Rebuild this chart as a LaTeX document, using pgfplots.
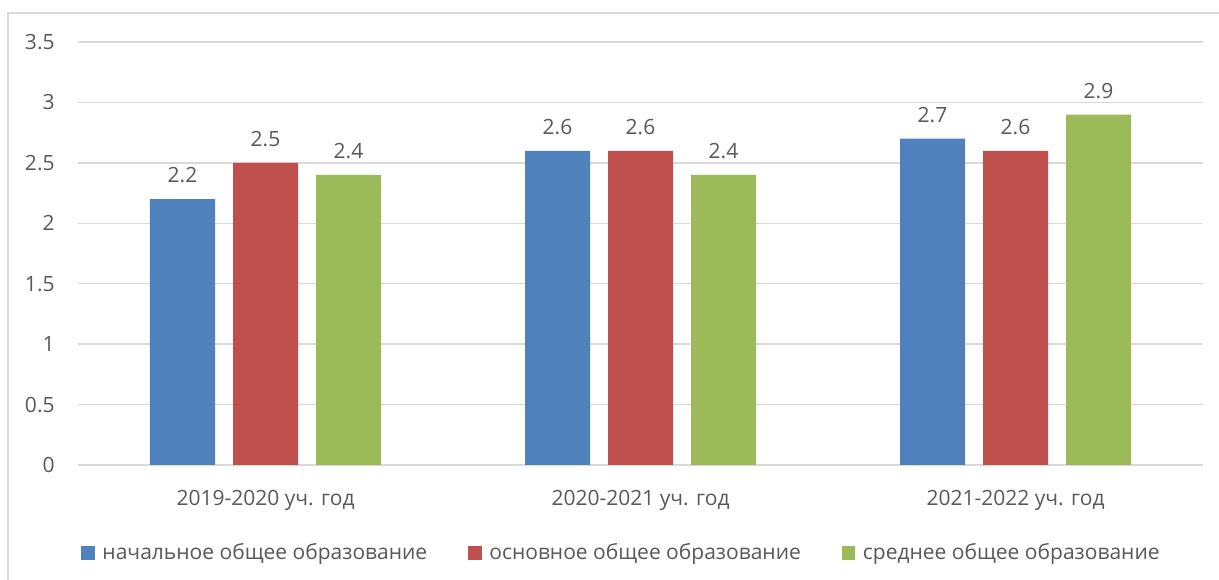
\documentclass[border=0pt]{standalone}
\usepackage{pgfplots}
\pgfplotsset{compat=1.18}
\usepackage{fontspec}
\setmainfont{Open Sans}
\definecolor{txt}{HTML}{595959}
\definecolor{gridc}{HTML}{D9D9D9}
\definecolor{cblue}{HTML}{4F81BD}
\definecolor{cred}{HTML}{C0504D}
\definecolor{cgreen}{HTML}{9BBB59}
\begin{document}
\begin{tikzpicture}
\useasboundingbox (0,0) rectangle (609.5bp,290bp);
\draw[gridc, line width=0.6bp] (4bp,-10bp) rectangle (612bp,283.5bp);
\begin{axis}[
    at={(39bp,57.5bp)}, anchor=south west,
    scale only axis,
    width=562.5bp, height=211.5bp,
    xmin=-0.5, xmax=2.5,
    ymin=0, ymax=3.5,
    ytick={0,0.5,...,3.5},
    xtick=data,
    xticklabels={2019-2020 уч. год, 2020-2021 уч. год, 2021-2022 уч. год},
    axis line style={draw=none},
    major tick length=0pt,
    ymajorgrids,
    grid style={gridc, line width=0.75bp},
    ybar, bar width=32.5bp,
    font=\fontsize{10.5bp}{12bp}\selectfont,
    /pgf/number format/assume math mode=true,
    ticklabel style={text=txt, font=\fontsize{10.5bp}{12bp}\selectfont, inner sep=0pt},
    yticklabel style={anchor=east, xshift=-11.5bp},
    xticklabel style={anchor=north, yshift=-12.5bp},
    nodes near coords,
    every node near coord/.append style={text=txt, anchor=south, yshift=4.5bp, font=\fontsize{10.5bp}{12bp}\selectfont},
    legend columns=-1,
    legend style={at={(0,-0.208)}, anchor=west, xshift=1.5bp, draw=none, inner sep=0pt, text=txt,
        font=\fontsize{10.5bp}{12bp}\selectfont,
        nodes={inner sep=0pt},
        /tikz/every odd column/.append style={column sep=3.75bp},
        /tikz/every even column/.append style={column sep=20.5bp}},
    legend image code/.code={\fill[#1] (0bp,-3.4bp) rectangle (6.8bp,3.4bp);},
  ]
  \addplot[fill=cblue, draw=none, bar shift=-41.5bp] coordinates {(0,2.2) (1,2.6) (2,2.7)};
  \addlegendentry{начальное общее образование}
  \addplot[fill=cred, draw=none, bar shift=0bp] coordinates {(0,2.5) (1,2.6) (2,2.6)};
  \addlegendentry{основное общее образование}
  \addplot[fill=cgreen, draw=none, bar shift=41.5bp] coordinates {(0,2.4) (1,2.4) (2,2.9)};
  \addlegendentry{среднее общее образование}
\end{axis}
\end{tikzpicture}
\end{document}
